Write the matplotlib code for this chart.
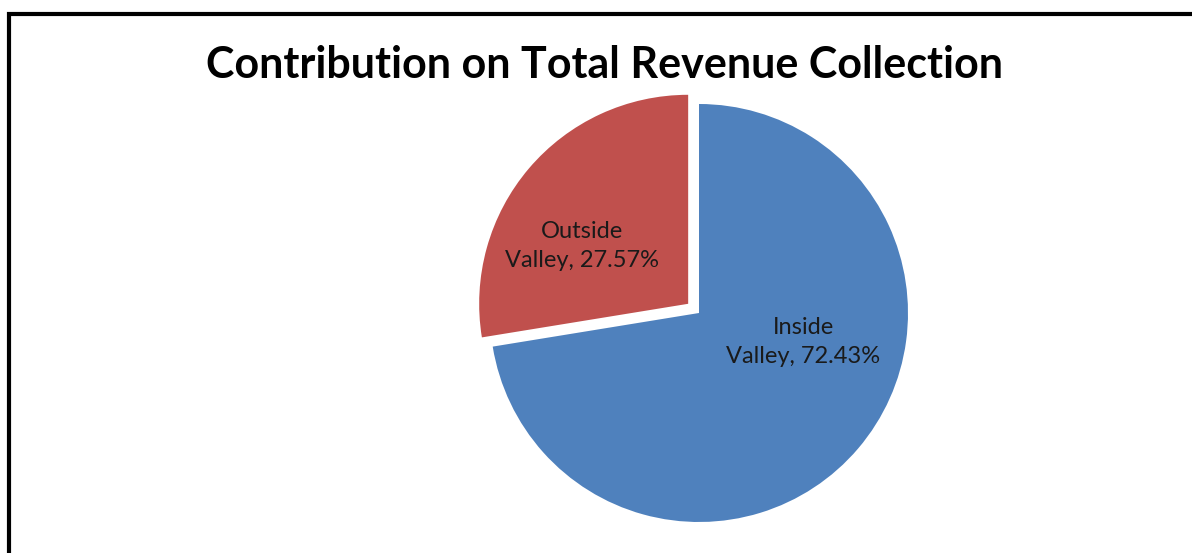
import matplotlib
matplotlib.use('Agg')
import matplotlib.pyplot as plt
from matplotlib.patches import Rectangle

# data
labels = ['Inside\nValley, 72.43%', 'Outside\nValley, 27.57%']
shares = [72.43, 27.57]
colors = ['#4F81BD', '#C0504D']
explode_frac = [0, 0.068]

W, H = 1192, 553
fig = plt.figure(figsize=(W / 100, H / 100), dpi=100)
ax = fig.add_axes([0, 0, 1, 1])

cx, cy, r = 699, 240, 209
# pie's explode is in data units, so scale the fractions by the radius
explode = [e * r for e in explode_frac]
wedges, _ = ax.pie(shares, colors=colors, explode=explode, startangle=90,
                   counterclock=False, center=(cx, cy), radius=r, frame=True)
ax.set_xlim(0, W)
ax.set_ylim(0, H)
ax.set_aspect('equal')
ax.axis('off')

# data labels, placed like Excel does
ax.text(cx + 0.50 * r, cy - 0.14 * r, labels[0], ha='center', va='center',
        fontsize=17, family='Lato', color='#1a1a1a', linespacing=1.45)
ax.text(cx - 0.56 * r, cy + 0.32 * r, labels[1], ha='center', va='center',
        fontsize=17, family='Lato', color='#1a1a1a', linespacing=1.45)

ax.text(605, 488, 'Contribution on Total Revenue Collection', ha='center',
        va='center', fontsize=31, fontweight='bold', family='Lato')

# chart frame (right and bottom edges are cropped off)
ax.add_patch(Rectangle((9, -20), 1300, H - 14 + 20, fill=False,
                       edgecolor='black', linewidth=3, clip_on=False))

fig.savefig('out.png', dpi=100)
